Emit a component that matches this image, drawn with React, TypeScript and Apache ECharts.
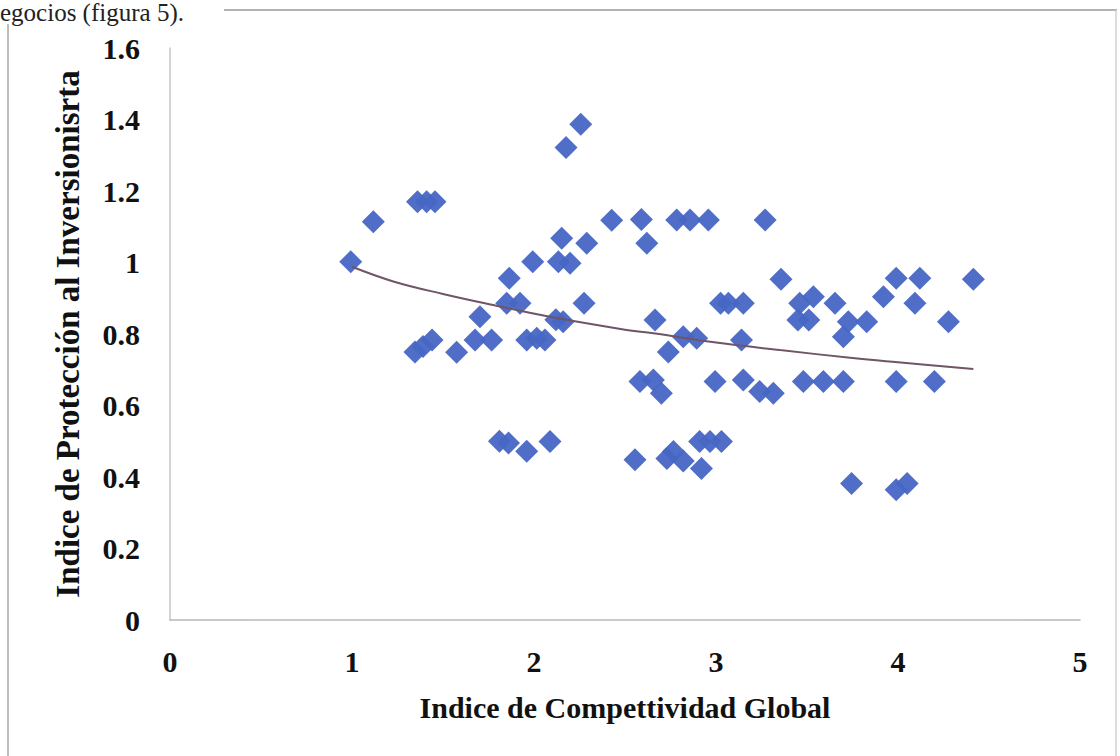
import React, { useEffect, useRef } from "react";
import * as echarts from "echarts";

// Índice de Competitividad Global (x) vs. Índice de Protección al Inversionista (y)
const competitividad = [
  0.993, 1.117, 1.36, 1.41, 1.456, 1.346, 1.39, 1.44, 1.575, 1.676,
  1.703, 1.767, 1.81, 1.86, 1.96, 1.864, 1.85, 1.923, 1.96, 2.015,
  2.06, 1.993, 2.088, 2.12, 2.16, 2.134, 2.198, 2.152, 2.176, 2.257,
  2.29, 2.275, 2.427, 2.555, 2.582, 2.59, 2.62, 2.656, 2.665, 2.7,
  2.73, 2.738, 2.766, 2.784, 2.82, 2.82, 2.857, 2.894, 2.91, 2.92,
  2.958, 2.967, 2.995, 3.025, 3.03, 3.068, 3.14, 3.15, 3.15, 3.24,
  3.27, 3.315, 3.357, 3.45, 3.46, 3.48, 3.51, 3.535, 3.59, 3.654,
  3.7, 3.7, 3.727, 3.745, 3.828, 3.92, 3.99, 3.99, 3.99, 4.05,
  4.093, 4.12, 4.2, 4.277, 4.414,
];
const proteccion = [
  1.002, 1.114, 1.17, 1.17, 1.17, 0.75, 0.765, 0.783, 0.749, 0.783,
  0.848, 0.783, 0.5, 0.495, 0.472, 0.956, 0.886, 0.886, 0.783, 0.788,
  0.783, 1.002, 0.499, 0.84, 0.834, 1.002, 0.998, 1.068, 1.322, 1.387,
  1.054, 0.886, 1.118, 0.448, 0.667, 1.12, 1.054, 0.671, 0.839, 0.634,
  0.452, 0.75, 0.471, 1.119, 0.792, 0.445, 1.119, 0.788, 0.499, 0.424,
  1.119, 0.499, 0.667, 0.886, 0.499, 0.886, 0.783, 0.886, 0.671, 0.639,
  1.119, 0.634, 0.953, 0.839, 0.886, 0.667, 0.839, 0.904, 0.667, 0.886,
  0.792, 0.667, 0.834, 0.382, 0.834, 0.904, 0.956, 0.667, 0.364, 0.382,
  0.886, 0.956, 0.667, 0.834, 0.953,
];

// Logarithmic trend line, sampled along its length
const trendX = [1.0, 1.227, 1.5, 1.776, 2.088, 2.5, 2.656, 3.0, 3.352, 3.75, 4.0, 4.414];
const trendY = [0.988, 0.947, 0.912, 0.881, 0.848, 0.812, 0.802, 0.776, 0.755, 0.733, 0.721, 0.702];

// Axis ranges and tick steps
const xRange = [0, 5];
const xStep = 1;
const yRange = [0, 1.6];
const yStep = 0.2;

const xTitle = "Indice de Compettividad Global";
const yTitle = "Indice de Protección al Inversionisrta";
const captionText = "egocios (figura 5).";

const SERIF = "'Liberation Serif', 'Times New Roman', serif";

export default function App() {
  const ref = useRef<HTMLDivElement>(null);

  useEffect(() => {
    if (!ref.current) return;
    const chart = echarts.init(ref.current, null, { renderer: "svg" });

    const points = competitividad.map((x, i) => [x, proteccion[i]]);
    const trend = trendX.map((x, i) => [x, trendY[i]]);

    chart.setOption({
      animation: false,
      backgroundColor: "#ffffff",
      grid: { left: 170, right: 40, top: 48, bottom: 136, containLabel: false },
      xAxis: {
        type: "value",
        min: xRange[0],
        max: xRange[1],
        interval: xStep,
        name: xTitle,
        nameLocation: "middle",
        nameGap: 72,
        nameTextStyle: { fontFamily: SERIF, fontWeight: "bold", fontSize: 30, color: "#111" },
        axisLine: { show: true, lineStyle: { color: "#b8b8b8", width: 1.5 } },
        axisTick: { show: false },
        splitLine: { show: false },
        axisLabel: { fontFamily: SERIF, fontWeight: "bold", fontSize: 30, color: "#111", margin: 26 },
      },
      yAxis: {
        type: "value",
        min: yRange[0],
        max: yRange[1],
        interval: yStep,
        name: yTitle,
        nameLocation: "middle",
        nameGap: 86,
        nameRotate: 90,
        nameTextStyle: { fontFamily: SERIF, fontWeight: "bold", fontSize: 33, color: "#111" },
        axisLine: { show: true, lineStyle: { color: "#c4c4c4", width: 1.5 } },
        axisTick: { show: false },
        splitLine: { show: false },
        axisLabel: { fontFamily: SERIF, fontWeight: "bold", fontSize: 30, color: "#111", margin: 30 },
      },
      series: [
        {
          type: "scatter",
          data: points,
          symbol: "diamond",
          symbolSize: 23,
          itemStyle: { color: "#4766c4", opacity: 0.95 },
          z: 2,
        },
        {
          type: "line",
          data: trend,
          smooth: 0.4,
          showSymbol: false,
          symbol: "none",
          lineStyle: { color: "#6f5566", width: 2 },
          z: 3,
        },
      ],
      graphic: [
        {
          type: "line",
          shape: { x1: 224, y1: 10, x2: 1117, y2: 10 },
          style: { stroke: "#9a9a9a", lineWidth: 1.5 },
        },
        {
          type: "line",
          shape: { x1: 8, y1: 24, x2: 8, y2: 756 },
          style: { stroke: "#a8a8a8", lineWidth: 1.5 },
        },
        {
          type: "line",
          shape: { x1: 1116, y1: 10, x2: 1116, y2: 756 },
          style: { stroke: "#d0d0d0", lineWidth: 1.5 },
        },
        {
          type: "text",
          x: 0,
          y: 0,
          style: {
            text: captionText,
            font: `25px ${SERIF}`,
            fill: "#222",
            verticalAlign: "top",
            align: "left",
          },
        },
      ],
    });

    return () => chart.dispose();
  }, []);

  return (
    <div
      ref={ref}
      style={{ position: "fixed", left: 0, top: 0, width: 1120, height: 756, background: "#fff" }}
    />
  );
}
